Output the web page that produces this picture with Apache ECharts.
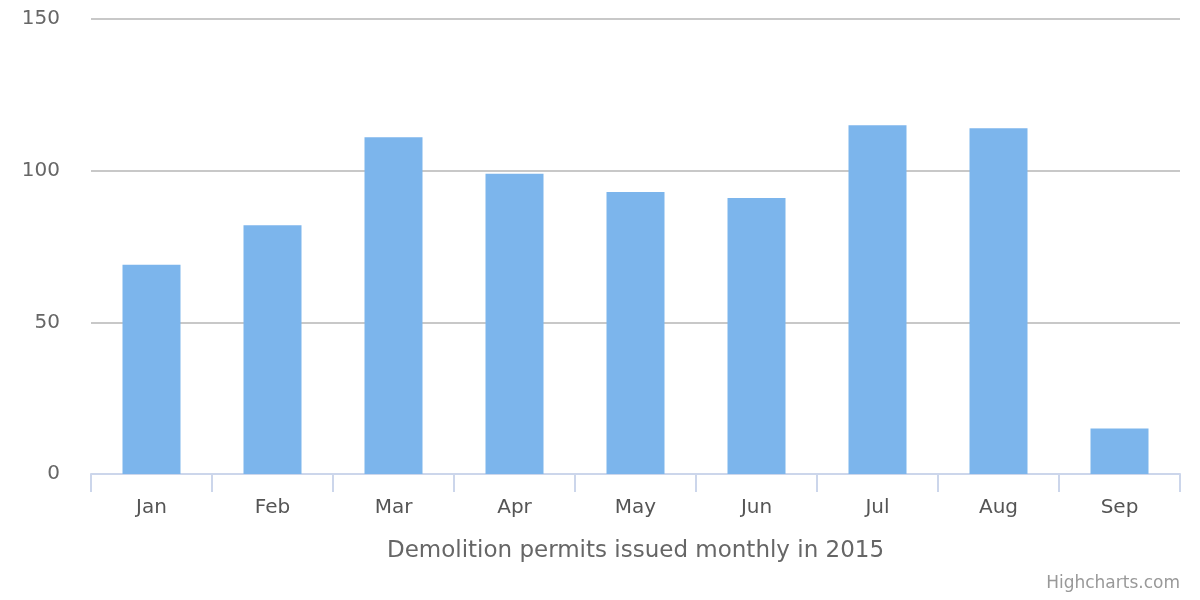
<!DOCTYPE html>
<html><head><meta charset="utf-8">
<script src="https://cdn.jsdelivr.net/npm/echarts@6/dist/echarts.min.js"></script>
<style>html,body{margin:0;padding:0;background:#fff}#c{width:1200px;height:600px}</style>
</head><body><div id="c"></div>
<script>
const categories = ['Jan','Feb','Mar','Apr','May','Jun','Jul','Aug','Sep'];
const permits = [69, 82, 111, 99, 93, 91, 115, 114, 15];
const yTicks = [0, 50, 100, 150];
const xTitle = 'Demolition permits issued monthly in 2015';
const credit = 'Highcharts.com';

const chart = echarts.init(document.getElementById('c'));
chart.setOption({
  animation: false,
  textStyle: {fontFamily: 'DejaVu Sans'},
  grid: {left: 91, right: 20, top: 19, bottom: 126},
  graphic: [{type: 'text', right: 20, bottom: 8, style: {text: credit, fill: '#999', font: '17px DejaVu Sans'}}],
  xAxis: {
    type: 'category', data: categories,
    name: xTitle, nameLocation: 'middle', nameGap: 66,
    nameTextStyle: {color: '#666', fontSize: 23},
    axisLine: {lineStyle: {color: '#ccd6eb', width: 2}},
    axisTick: {show: true, alignWithLabel: false, length: 18, lineStyle: {color: '#ccd6eb', width: 2}},
    axisLabel: {color: '#555', fontSize: 20, margin: 24}
  },
  yAxis: {
    type: 'value', min: yTicks[0], max: yTicks[yTicks.length-1], interval: 50,
    axisLine: {show: false}, axisTick: {show: false},
    axisLabel: {color: '#666', fontSize: 20, margin: 31},
    splitLine: {lineStyle: {color: '#c8c8c8', width: 2}}
  },
  series: [{type: 'bar', data: permits, barWidth: 58, itemStyle: {color: '#7cb5ec'}}]
});
</script></body></html>
